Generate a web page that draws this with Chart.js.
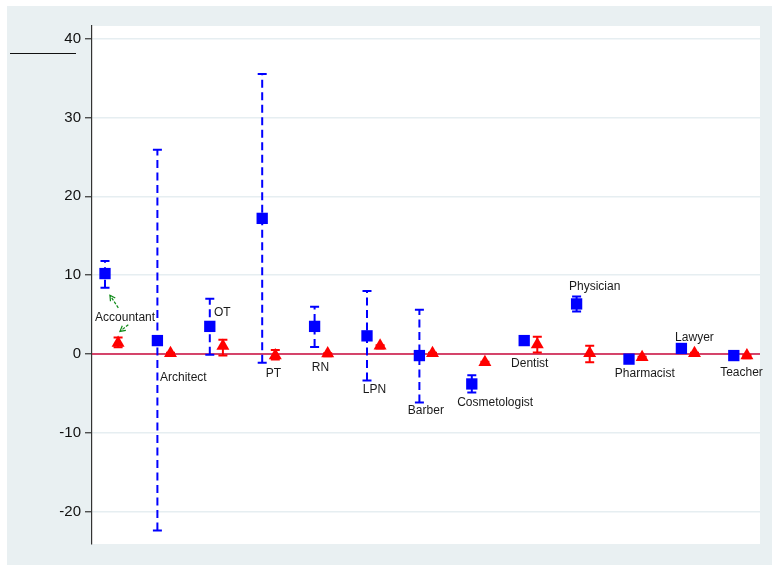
<!DOCTYPE html>
<html>
<head>
<meta charset="utf-8">
<script src="https://cdn.jsdelivr.net/npm/chart.js@4/dist/chart.umd.min.js"></script>
<style>
  html, body { margin: 0; padding: 0; background: #fff; }
  #wrap { width: 772px; height: 565px; }
</style>
</head>
<body>
<div id="wrap"><canvas id="c" width="772" height="565"></canvas></div>
<script>
// Occupations, in plotting order
const occupations = ['Accountant', 'Architect', 'OT', 'PT', 'RN', 'LPN', 'Barber',
  'Cosmetologist', 'Dentist', 'Physician', 'Pharmacist', 'Lawyer', 'Teacher'];

// Blue series: point estimate with lower / upper confidence bound
const blueEst  = [10.2, 1.7, 3.5, 17.2, 3.5, 2.3, -0.2, -3.8, 1.7, 6.35, -0.65, 0.7, -0.2];
const blueLow  = [8.4, -22.4, -0.1, -1.1, 0.9, -3.35, -6.15, -4.9, 1.4, 5.4, -0.9, 0.45, -0.5];
const blueHigh = [11.8, 25.9, 7.0, 35.5, 6.0, 8.0, 5.6, -2.7, 2.0, 7.3, -0.4, 0.95, 0.1];

// Red series: point estimate with lower / upper confidence bound
const redEst  = [1.4, 0.1, 1.0, -0.2, 0.05, 1.05, 0.1, -1.05, 1.2, 0.1, -0.4, 0.1, -0.2];
const redLow  = [0.85, -0.25, -0.2, -0.7, -0.3, 0.7, -0.25, -1.4, 0.2, -1.05, -0.75, -0.25, -0.55];
const redHigh = [2.1, 0.15, 1.8, 0.5, 0.1, 1.1, 0.15, -1.0, 2.2, 1.05, -0.35, 0.15, -0.15];

// Y axis tick values
const yTicks = [-20, -10, 0, 10, 20, 30, 40];

// Anchor (left edge, vertical middle) of each occupation label, in data units
const labelX = [0.81, 2.05, 3.08, 4.07, 4.945, 5.92, 6.78, 7.72, 8.75, 9.855, 10.73, 11.88, 12.74];
const labelY = [4.57, -3.0, 5.25, -2.5, -1.74, -4.54, -7.2, -6.15, -1.23, 8.51, -2.5, 2.03, -2.34];

// Pointer arrows for the Accountant label: [tailX, tailY, headX, headY]
const arrows = [
  [1.254, 5.84, 1.095, 7.45],
  [1.445, 3.72, 1.286, 2.87]
];

const RED_OFFSET = 0.25;
const FONT = '"Liberation Sans", Arial, Helvetica, sans-serif';

const bluePoints = occupations.map((_, i) => ({ x: i + 1, y: blueEst[i] }));
const redPoints = occupations.map((_, i) => ({ x: i + 1 + RED_OFFSET, y: redEst[i] }));

const backdrop = {
  id: 'backdrop',
  beforeDraw(chart) {
    const { ctx, chartArea: ca, width, height } = chart;
    ctx.save();
    ctx.fillStyle = '#ffffff';
    ctx.fillRect(0, 0, width, height);
    ctx.fillStyle = '#e9f0f2';
    ctx.fillRect(7, 6, width - 7, height - 6);
    ctx.fillStyle = '#ffffff';
    ctx.fillRect(ca.left, ca.top, ca.right - ca.left, ca.bottom - ca.top);
    // short rule beside the top of the y axis
    ctx.strokeStyle = '#111';
    ctx.lineWidth = 1;
    ctx.beginPath();
    ctx.moveTo(10, 53.5);
    ctx.lineTo(76, 53.5);
    ctx.stroke();
    ctx.restore();
  }
};

function drawBar(ctx, x, yLo, yHi, cap) {
  ctx.beginPath();
  ctx.moveTo(x, yLo);
  ctx.lineTo(x, yHi);
  ctx.stroke();
  ctx.setLineDash([]);
  ctx.beginPath();
  ctx.moveTo(x - cap, yLo);
  ctx.lineTo(x + cap, yLo);
  ctx.moveTo(x - cap, yHi);
  ctx.lineTo(x + cap, yHi);
  ctx.stroke();
}

const intervals = {
  id: 'intervals',
  beforeDatasetsDraw(chart) {
    const { ctx, chartArea: ca, scales: { x, y } } = chart;
    ctx.save();
    ctx.beginPath();
    ctx.rect(ca.left, ca.top, ca.right - ca.left, ca.bottom - ca.top);
    ctx.clip();

    // reference line at zero
    ctx.strokeStyle = '#cc0a3c';
    ctx.lineWidth = 1.6;
    ctx.beginPath();
    const y0 = y.getPixelForValue(0);
    ctx.moveTo(ca.left, y0);
    ctx.lineTo(ca.right, y0);
    ctx.stroke();

    ctx.lineWidth = 2;
    occupations.forEach((_, i) => {
      // blue intervals, dashed
      ctx.strokeStyle = '#0000ff';
      ctx.setLineDash([8, 4.5]);
      const xb = x.getPixelForValue(i + 1);
      drawBar(ctx, xb, y.getPixelForValue(blueLow[i]), y.getPixelForValue(blueHigh[i]), 4.5);
      // red intervals, solid
      ctx.strokeStyle = '#ff0000';
      ctx.setLineDash([]);
      const xr = x.getPixelForValue(i + 1 + RED_OFFSET);
      drawBar(ctx, xr, y.getPixelForValue(redLow[i]), y.getPixelForValue(redHigh[i]), 4.5);
    });
    ctx.restore();
  }
};

const annotations = {
  id: 'annotations',
  afterDatasetsDraw(chart) {
    const { ctx, scales: { x, y } } = chart;
    ctx.save();
    ctx.font = '12px ' + FONT;
    ctx.fillStyle = '#1a1a1a';
    ctx.textAlign = 'left';
    ctx.textBaseline = 'middle';
    occupations.forEach((name, i) => {
      ctx.fillText(name, x.getPixelForValue(labelX[i]), y.getPixelForValue(labelY[i]));
    });

    ctx.strokeStyle = '#0f8a18';
    ctx.lineWidth = 1.2;
    arrows.forEach(([tx, ty, hx, hy]) => {
      const x1 = x.getPixelForValue(tx), y1 = y.getPixelForValue(ty);
      const x2 = x.getPixelForValue(hx), y2 = y.getPixelForValue(hy);
      ctx.setLineDash([3, 1.5]);
      ctx.beginPath();
      ctx.moveTo(x1, y1);
      ctx.lineTo(x2, y2);
      ctx.stroke();
      ctx.setLineDash([]);
      const a = Math.atan2(y2 - y1, x2 - x1);
      const len = 6, spread = 0.5;
      ctx.beginPath();
      ctx.moveTo(x2 - len * Math.cos(a - spread), y2 - len * Math.sin(a - spread));
      ctx.lineTo(x2, y2);
      ctx.lineTo(x2 - len * Math.cos(a + spread), y2 - len * Math.sin(a + spread));
      ctx.stroke();
    });
    ctx.restore();
  }
};

new Chart(document.getElementById('c'), {
  type: 'scatter',
  data: {
    datasets: [
      {
        label: 'blue',
        data: bluePoints,
        pointStyle: 'rect',
        pointRadius: 8,
        pointHoverRadius: 8,
        backgroundColor: '#0000ff',
        borderColor: '#0000ff',
        borderWidth: 0
      },
      {
        label: 'red',
        data: redPoints,
        pointStyle: 'triangle',
        pointRadius: 7.5,
        pointHoverRadius: 7.5,
        backgroundColor: '#ff0000',
        borderColor: '#ff0000',
        borderWidth: 0
      }
    ]
  },
  options: {
    responsive: false,
    animation: false,
    devicePixelRatio: 1,
    layout: { padding: { left: 0, right: 12, top: 26, bottom: 21 } },
    plugins: { legend: { display: false }, tooltip: { enabled: false } },
    scales: {
      x: {
        type: 'linear',
        min: 0.752,
        max: 13.5,
        display: false
      },
      y: {
        type: 'linear',
        min: -24.1,
        max: 41.6,
        afterBuildTicks: s => { s.ticks = yTicks.map(v => ({ value: v })); },
        afterFit: s => { s.width = 92; },
        border: { display: true, color: '#333333', width: 1.2 },
        grid: {
          color: '#e6eef1',
          lineWidth: 1.5,
          drawTicks: true,
          tickLength: 7,
          tickColor: '#333333',
          tickWidth: 1.2
        },
        ticks: {
          color: '#111111',
          padding: 4,
          font: { family: FONT, size: 15 }
        }
      }
    }
  },
  plugins: [backdrop, intervals, annotations]
});
</script>
</body>
</html>
